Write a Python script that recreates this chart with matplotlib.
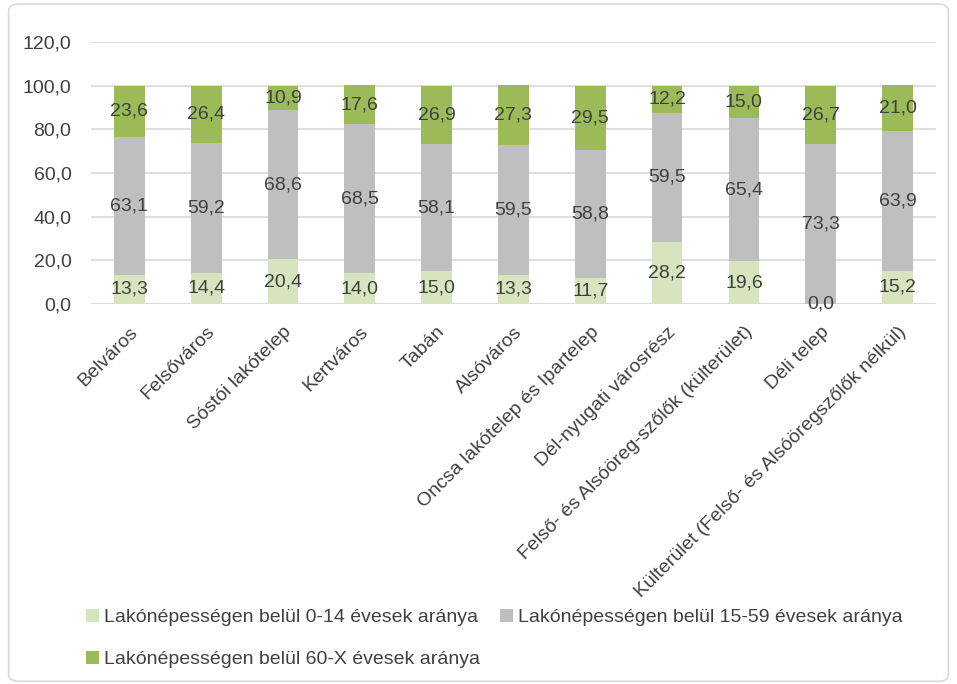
import matplotlib
matplotlib.use("Agg")
import matplotlib.pyplot as plt
from matplotlib.patches import FancyBboxPatch, Patch
from matplotlib import font_manager

names = [f.name for f in font_manager.fontManager.ttflist]
fam = ['Liberation Sans Narrow', 'Liberation Sans', 'DejaVu Sans'] if 'Liberation Sans Narrow' in names else ['Liberation Sans', 'DejaVu Sans']
plt.rcParams['font.family'] = fam

categories = ["Belváros", "Felsőváros", "Sóstói lakótelep", "Kertváros", "Tabán",
              "Alsóváros", "Oncsa lakótelep és Ipartelep", "Dél-nyugati városrész",
              "Felső- és Alsóöreg-szőlők (külterület)", "Déli telep",
              "Külterület (Felső- és Alsóöregszőlők nélkül)"]
age_0_14 = [13.3, 14.4, 20.4, 14.0, 15.0, 13.3, 11.7, 28.2, 19.6, 0.0, 15.2]
age_15_59 = [63.1, 59.2, 68.6, 68.5, 58.1, 59.5, 58.8, 59.5, 65.4, 73.3, 63.9]
age_60_x = [23.6, 26.4, 10.9, 17.6, 26.9, 27.3, 29.5, 12.2, 15.0, 26.7, 21.0]
series_labels = ["Lakónépességen belül 0-14 évesek aránya",
                 "Lakónépességen belül 15-59 évesek aránya",
                 "Lakónépességen belül 60-X évesek aránya"]
yticks = [0, 20, 40, 60, 80, 100, 120]

colors = ["#D7E4BD", "#BFBFBF", "#9BBB59"]
txt = "#404040"

fig = plt.figure(figsize=(9.57, 6.84), dpi=100)
ax = fig.add_axes([0.095, 0.5556, 0.883, 0.383])

x = list(range(len(categories)))
bottoms = [0.0] * len(categories)
for vals, c in zip([age_0_14, age_15_59, age_60_x], colors):
    ax.bar(x, vals, width=0.4, bottom=bottoms, color=c, zorder=3)
    for xi, v, b in zip(x, vals, bottoms):
        ax.text(xi, b + v / 2, f"{v:.1f}".replace(".", ","), ha="center", va="center",
                fontsize=14, color=txt, zorder=4)
    bottoms = [b + v for b, v in zip(bottoms, vals)]

ax.set_ylim(0, 120)
ax.set_xlim(-0.5, len(categories) - 0.5)
ax.set_yticks(yticks)
ax.set_yticklabels([f"{t:.1f}".replace(".", ",") for t in yticks], fontsize=14, color=txt)
ax.set_xticks(x)
ax.set_xticklabels(categories, rotation=45, ha="right", rotation_mode="anchor",
                   fontsize=14, color=txt)
ax.tick_params(axis="both", length=0)
ax.tick_params(axis="y", pad=14)
ax.tick_params(axis="x", pad=14)
ax.yaxis.grid(True, color="#D9D9D9", linewidth=1.2, zorder=0)
ax.set_axisbelow(True)
for s in ax.spines.values():
    s.set_visible(False)
ax.axhline(0, color="#D9D9D9", linewidth=1.2, zorder=2)

# legend: row 1 -> 0-14, 15-59 ; row 2 -> 60-X (matplotlib fills column-first)
order = [0, 2, 1]
handles = [Patch(facecolor=colors[i], edgecolor="none") for i in order]
labels = [series_labels[i] for i in order]
leg = fig.legend(handles, labels, loc="upper left", bbox_to_anchor=(86 / 957, 1 - 609 / 684),
                 ncol=2, frameon=False, fontsize=14, handlelength=0.67, handleheight=0.67,
                 handletextpad=0.28, columnspacing=1.0, labelspacing=1.25, borderpad=0,
                 borderaxespad=0)
for t in leg.get_texts():
    t.set_color(txt)

border = FancyBboxPatch((0.009, 0.004), 0.982, 0.99, boxstyle="round,pad=0,rounding_size=0.01",
                        transform=fig.transFigure, facecolor="none", edgecolor="#D9D9D9",
                        linewidth=1.2)
fig.patches.append(border)

fig.savefig("out.png", dpi=100)
